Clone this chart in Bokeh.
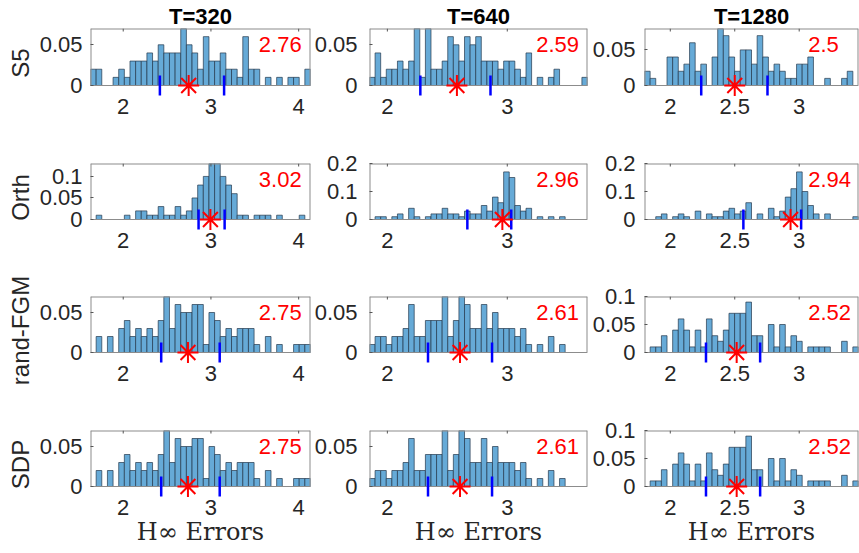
import math
import numpy as np
from bokeh.plotting import figure
from bokeh.layouts import gridplot
from bokeh.models import (ColumnDataSource, FixedTicker, CustomJSTickFormatter,
                          Label, LinearAxis, Range1d)
from bokeh.embed import file_html
from bokeh.resources import INLINE

# ---------------- data ----------------
methods = ["S5", "Orth", "rand-FGM", "SDP"]
horizons = ["T=320", "T=640", "T=1280"]
x_label = "H\u221e Errors"

x_limits = [(1.627, 4.135), (1.851, 3.669), (1.80, 3.46)]
x_ticks = [[2, 3, 4], [2, 3], [2, 2.5, 3]]

y_max = [[0.07, 0.07, 0.08],
         [0.13, 0.2, 0.2],
         [0.07, 0.07, 0.1],
         [0.07, 0.07, 0.1]]
y_ticks = [[[0, 0.05], [0, 0.05], [0, 0.05]],
           [[0, 0.05, 0.1], [0, 0.1, 0.2], [0, 0.1, 0.2]],
           [[0, 0.05], [0, 0.05], [0, 0.05, 0.1]],
           [[0, 0.05], [0, 0.05], [0, 0.05, 0.1]]]

# histogram counts (out of 100 runs) per bin
s5_320 = [2,2,0,0,1,2,1,3,3,3,4,3,5,4,4,4,7,5,4,2,6,3,3,4,2,2,1,6,2,2,0,1,0,1,0,1,1,0,2]
s5_640 = [1,4,1,2,2,3,2,3,7,1,7,2,2,3,6,5,3,6,5,6,3,3,3,2,3,3,2,1,4,0,1,0,1,2,0,0,0,0,1]
s5_1280 = [2,1,0,0,4,4,2,3,6,2,3,0,4,8,7,4,2,5,5,3,7,4,2,3,2,1,1,3,3,4,0,0,1,0,0,1,2,0]
orth_320 = [0,1,0,0,0,0,1,0,2,2,1,1,3,1,1,3,1,2,5,8,10,13,13,10,8,6,1,1,0,1,1,1,0,1,0,0,0,1,0]
orth_640 = [0,1,1,0,1,2,0,4,1,0,1,2,2,4,2,2,1,3,2,2,5,3,8,6,17,15,5,3,4,0,1,0,1,0,1,0,0,0,0]
orth_1280 = [0,0,1,2,0,1,2,1,0,3,0,2,1,1,3,4,2,3,6,0,2,0,4,1,3,8,11,17,10,5,2,0,2,0,0,0,0,1]
rfgm_320 = [0,2,0,2,0,3,4,2,3,2,3,2,4,7,3,6,5,5,6,6,1,5,4,2,3,2,3,3,3,1,0,2,0,1,0,0,1,1,1]
rfgm_640 = [1,2,2,1,2,2,3,6,2,2,4,4,4,7,2,4,7,6,3,3,6,3,5,3,3,3,2,3,1,0,1,0,2,0,1,0,0,0,0]
rfgm_1280 = [0,1,1,3,0,4,6,4,1,4,1,6,3,2,4,7,7,7,9,3,3,0,5,1,5,1,3,2,0,1,1,1,1,0,0,2,0,1]
sdp_320 = [0,2,0,2,0,3,4,2,3,2,3,2,4,7,3,6,5,5,6,6,1,5,4,2,3,2,3,3,3,1,0,2,0,1,0,0,1,1,1]
sdp_640 = [1,2,2,1,2,2,3,6,2,2,4,4,4,7,2,4,7,6,3,3,6,3,5,3,3,3,2,3,1,0,1,0,2,0,1,0,0,0,0]
sdp_1280 = [0,1,1,3,0,4,6,4,1,4,1,6,3,2,4,7,7,7,9,3,3,0,5,1,5,1,3,2,0,1,1,1,1,0,0,2,0,1]
counts = [[s5_320, s5_640, s5_1280],
          [orth_320, orth_640, orth_1280],
          [rfgm_320, rfgm_640, rfgm_1280],
          [sdp_320, sdp_640, sdp_1280]]

# displayed summary value (red text)
s5_value = [2.76, 2.59, 2.5]
orth_value = [3.02, 2.96, 2.94]
rfgm_value = [2.75, 2.61, 2.52]
sdp_value = [2.75, 2.61, 2.52]
values = [s5_value, orth_value, rfgm_value, sdp_value]

# red star location
s5_star = [2.746, 2.58, 2.50]
orth_star = [2.994, 2.959, 2.933]
rfgm_star = [2.738, 2.606, 2.515]
sdp_star = [2.738, 2.606, 2.515]
stars = [s5_star, orth_star, rfgm_star, sdp_star]

# blue interval markers (low, high)
s5_lo = [2.418, 2.275, 2.24]
s5_hi = [3.15, 2.86, 2.754]
orth_lo = [2.859, 2.667, 2.567]
orth_hi = [3.156, 3.033, 3.015]
rfgm_lo = [2.433, 2.339, 2.277]
rfgm_hi = [3.10, 2.873, 2.697]
sdp_lo = [2.433, 2.339, 2.277]
sdp_hi = [3.10, 2.873, 2.697]
lows = [s5_lo, orth_lo, rfgm_lo, sdp_lo]
highs = [s5_hi, orth_hi, rfgm_hi, sdp_hi]

# ---------------- layout / style ----------------
col_left = [90, 56, 53]
col_frame = [220, 220, 216]
col_right = [1, 2, 1]
col_standoff = [8, 12, 9]
row_top = [28, 13, 36, 12]
row_box = [57, 56, 56, 56]
EXT = 12
row_bottom = [53, 29, 54, 55]

SANS = "Liberation Sans"
TICK_FS = "22px"
DARK = "#262626"
BOX = "#8c8c8c"
BAR_FILL = "#66aad7"
BAR_LINE = "#24384c"

fmt_code = "return String(tick)"

grid = []
for r in range(4):
    row_figs = []
    for c in range(3):
        x0, x1 = x_limits[c]
        ym = y_max[r][c]
        ymin = -ym * EXT / row_box[r]
        W = col_left[c] + col_frame[c] + col_right[c]
        H = row_top[r] + row_box[r] + EXT + row_bottom[r]
        p = figure(width=W, height=H, x_range=Range1d(x0, x1), y_range=Range1d(ymin, ym),
                   output_backend="svg", toolbar_location=None,
                   min_border_left=col_left[c], min_border_right=col_right[c],
                   min_border_top=row_top[r], min_border_bottom=row_bottom[r])
        p.grid.visible = False
        p.outline_line_color = None
        p.background_fill_color = "white"
        p.border_fill_color = "white"

        if r == 0:
            p.title.text = horizons[c]
            p.title.align = "center"
            p.title.text_font = SANS
            p.title.text_font_size = "22px"
            p.title.text_font_style = "bold"
            p.title.text_color = "black"
            p.title.standoff = 0
            p.title.offset = 0

        # axes
        xa = p.xaxis[0]
        xa.ticker = FixedTicker(ticks=x_ticks[c])
        xa.formatter = CustomJSTickFormatter(code=fmt_code)
        xa.axis_line_color = None
        xa.major_tick_in = 0
        xa.major_tick_out = 0
        xa.minor_tick_line_color = None
        xa.major_label_standoff = 1
        xa.major_label_text_font = SANS
        xa.major_label_text_font_size = TICK_FS
        xa.major_label_text_color = DARK
        if r == 3:
            xa.axis_label = x_label
            xa.axis_label_text_font = "DejaVu Serif"
            xa.axis_label_text_font_style = "normal"
            xa.axis_label_text_font_size = "24px"
            xa.axis_label_text_color = DARK
            xa.axis_label_standoff = 0

        ya = p.yaxis[0]
        ya.ticker = FixedTicker(ticks=y_ticks[r][c])
        ya.formatter = CustomJSTickFormatter(code=fmt_code)
        ya.axis_line_color = None
        ya.major_tick_in = 3
        ya.major_tick_out = 0
        ya.major_tick_line_color = "#555555"
        ya.minor_tick_line_color = None
        ya.major_label_standoff = col_standoff[c]
        ya.major_label_text_font = SANS
        ya.major_label_text_font_size = TICK_FS
        ya.major_label_text_color = DARK
        if c == 0:
            ya.axis_label = methods[r]
            ya.axis_label_text_font = SANS
            ya.axis_label_text_font_style = "normal"
            ya.axis_label_text_font_size = "24px"
            ya.axis_label_text_color = DARK
            ya.axis_label_standoff = 3

        # histogram bars
        cnt = np.array(counts[r][c], dtype=float)
        n = len(cnt)
        w = (x1 - x0) / n
        left = x0 + np.arange(n) * w
        mask = cnt > 0
        src = ColumnDataSource(dict(left=left[mask], right=left[mask] + w,
                                    top=cnt[mask] / 100.0))
        p.quad(left="left", right="right", bottom=0, top="top", source=src,
               fill_color=BAR_FILL, line_color=BAR_LINE, line_width=0.7)

        # box with inward top ticks
        p.segment(x0=[x0, x0, x1], y0=[ym, 0, 0], x1=[x1, x0, x1], y1=[ym, ym, ym],
                  line_color=BOX, line_width=2)
        p.segment(x0=[x0], y0=[0], x1=[x1], y1=[0], line_color=BOX, line_width=1)
        tick_len = ym * 3.0 / row_box[r]
        tx = x_ticks[c]
        p.segment(x0=tx, y0=[ym] * len(tx), x1=tx, y1=[ym - tick_len] * len(tx),
                  line_color="#555555", line_width=1)

        # interval markers and star
        p.scatter(x=[lows[r][c], highs[r][c]], y=[0, 0], marker="dash", angle=math.pi / 2,
                  size=20, line_color="#0000ff", line_width=2.5)
        p.scatter(x=[stars[r][c]], y=[0], marker="asterisk", size=21,
                  line_color="#ff0000", line_width=2)

        # value text
        p.add_layout(Label(x=x0 + (x1 - x0) * 0.765, y=ym * 0.72, text=f"{values[r][c]:g}",
                           text_baseline="middle", text_align="left",
                           text_color="#ff0000", text_font=SANS, text_font_size="22px"))
        row_figs.append(p)
    grid.append(row_figs)

layout = gridplot(grid, toolbar_location=None)
open("out.html", "w").write(file_html(layout, INLINE))
